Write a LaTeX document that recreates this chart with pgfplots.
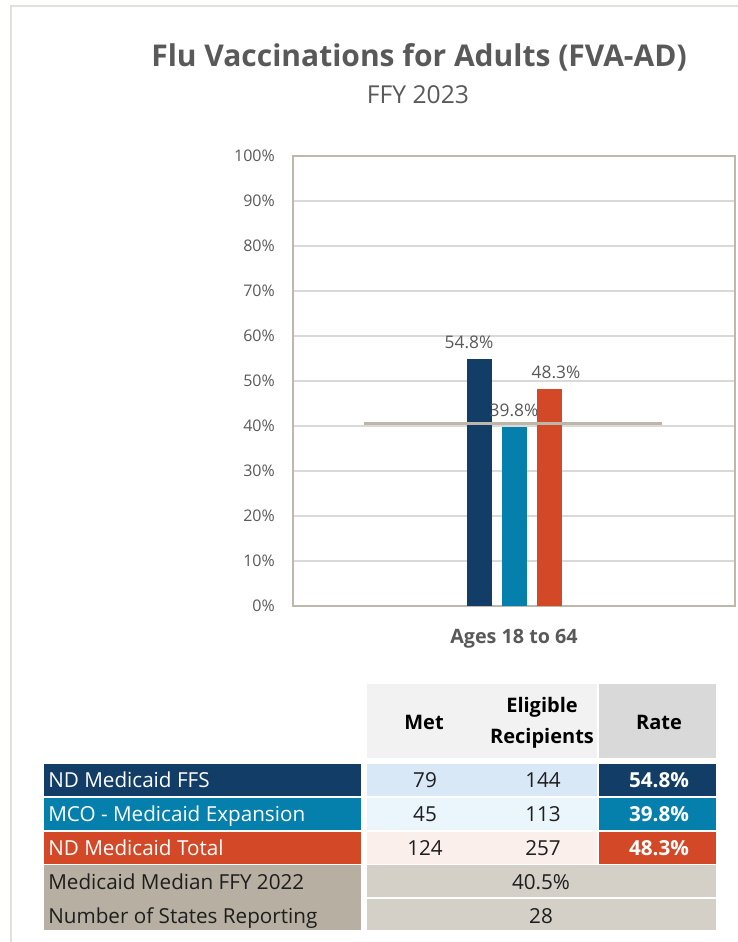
\documentclass[border=0pt]{standalone}
\usepackage{pgfplots}
\pgfplotsset{compat=1.18}
\usepackage{fontspec}
\setmainfont{Open Sans}
\definecolor{cFFS}{RGB}{17,61,102}
\definecolor{cMCO}{RGB}{5,127,172}
\definecolor{cTot}{RGB}{211,72,38}
\definecolor{cMed}{RGB}{190,183,168}
\definecolor{cGrid}{RGB}{217,217,217}
\definecolor{cBord}{RGB}{190,184,172}
\definecolor{cTxt}{RGB}{89,89,89}
\definecolor{cFrame}{RGB}{226,224,219}
\definecolor{cTan}{RGB}{182,175,162}
\definecolor{cMedCell}{RGB}{212,208,200}
\definecolor{cHead}{RGB}{242,242,242}
\definecolor{cRateHead}{RGB}{217,217,217}
\definecolor{cR1}{RGB}{216,232,246}
\definecolor{cR2}{RGB}{234,246,252}
\definecolor{cR3}{RGB}{251,239,236}
\definecolor{cDark}{RGB}{30,30,30}
\newcommand{\tfont}{\fontsize{15.5pt}{18pt}\selectfont}
\newcommand{\hfont}{\fontsize{15pt}{18pt}\selectfont\bfseries}
\newcommand{\lbl}{\fontsize{13pt}{15pt}\selectfont\pgfmathprintnumber[fixed,fixed zerofill,precision=1]{\pgfplotspointmeta}\%}
\begin{document}
\begin{tikzpicture}
\path[use as bounding box] (0,0) rectangle (553.5pt,706.5pt);
\begin{scope}[shift={(0pt,706.5pt)},x=0.75pt,y=-0.75pt]
  % frame
  \draw[cFrame,line width=1.5pt] (11,942) -- (11,6) -- (738,6);
  % titles
  \node[anchor=base,text=cTxt,font=\fontsize{22.5pt}{26pt}\selectfont\bfseries,inner sep=0pt] at (419,67) {Flu Vaccinations for Adults (FVA-AD)};
  \node[anchor=base,text=cTxt,font=\fontsize{18.5pt}{22pt}\selectfont,inner sep=0pt] at (418,104) {FFY 2023};
  % table backgrounds
  \begin{scope}[draw=white,line width=1.2pt]
    \filldraw[fill=cHead] (366,683) rectangle (598,759);
    \filldraw[fill=cRateHead] (598,683) rectangle (717,759);
    % row 1
    \filldraw[fill=cFFS] (43,763) rectangle (362,797);
    \filldraw[fill=cR1] (366,763) rectangle (598,797);
    \filldraw[fill=cFFS] (598,763) rectangle (717,797);
    % row 2
    \filldraw[fill=cMCO] (43,797) rectangle (362,831);
    \filldraw[fill=cR2] (366,797) rectangle (598,831);
    \filldraw[fill=cMCO] (598,797) rectangle (717,831);
    % row 3
    \filldraw[fill=cTot] (43,831) rectangle (362,864.5);
    \filldraw[fill=cR3] (366,831) rectangle (598,864.5);
    \filldraw[fill=cTot] (598,831) rectangle (717,864.5);
    % rows 4-5
    \filldraw[fill=cTan] (43,864.5) rectangle (362,931);
    \filldraw[fill=cMedCell] (366,864.5) rectangle (717,898);
    \filldraw[fill=cMedCell] (366,898) rectangle (717,931);
  \end{scope}
  % header text
  \node[anchor=base,inner sep=0pt,font=\hfont] at (424,730) {Met};
  \node[anchor=base,inner sep=0pt,font=\hfont] at (542,713) {Eligible};
  \node[anchor=base,inner sep=0pt,font=\hfont] at (542,744) {Recipients};
  \node[anchor=base,inner sep=0pt,font=\hfont] at (659,730) {Rate};
  % row labels
  \node[anchor=base west,inner sep=0pt,font=\tfont,text=white] at (48,788) {ND Medicaid FFS};
  \node[anchor=base west,inner sep=0pt,font=\tfont,text=white] at (48,822) {MCO - Medicaid Expansion};
  \node[anchor=base west,inner sep=0pt,font=\tfont,text=white] at (48,855.5) {ND Medicaid Total};
  \node[anchor=base west,inner sep=0pt,font=\tfont,text=cDark] at (48,889.5) {Medicaid Median FFY 2022};
  \node[anchor=base west,inner sep=0pt,font=\tfont,text=cDark] at (48,923.5) {Number of States Reporting};
  % values
  \node[anchor=base,inner sep=0pt,font=\tfont,text=cDark] at (425,788) {79};
  \node[anchor=base,inner sep=0pt,font=\tfont,text=cDark] at (543,788) {144};
  \node[anchor=base,inner sep=0pt,font=\tfont\bfseries,text=white] at (659,788) {54.8\%};
  \node[anchor=base,inner sep=0pt,font=\tfont,text=cDark] at (425,822) {45};
  \node[anchor=base,inner sep=0pt,font=\tfont,text=cDark] at (543,822) {113};
  \node[anchor=base,inner sep=0pt,font=\tfont\bfseries,text=white] at (659,822) {39.8\%};
  \node[anchor=base,inner sep=0pt,font=\tfont,text=cDark] at (425,855.5) {124};
  \node[anchor=base,inner sep=0pt,font=\tfont,text=cDark] at (543,855.5) {257};
  \node[anchor=base,inner sep=0pt,font=\tfont\bfseries,text=white] at (659,855.5) {48.3\%};
  \node[anchor=base,inner sep=0pt,font=\tfont,text=cDark] at (541,889.5) {40.5\%};
  \node[anchor=base,inner sep=0pt,font=\tfont,text=cDark] at (541,923.5) {28};
\end{scope}
\begin{axis}[
  at={(219.75pt,252pt)}, anchor=south west, scale only axis,
  width=331.5pt, height=337.5pt,
  xmin=-0.5, xmax=0.5, ymin=0, ymax=100,
  xtick={0}, xticklabels={Ages 18 to 64},
  ytick={0,10,...,100},
  yticklabel={\pgfmathprintnumber{\tick}\%},
  /pgf/number format/assume math mode=true,
  ymajorgrids, grid style={draw=cGrid, line width=1pt},
  major tick length=0pt,
  axis line style={draw=cBord, line width=1.2pt},
  tick label style={text=cTxt, font=\fontsize{12pt}{14pt}\selectfont},
  yticklabel style={inner sep=0pt, anchor=east, xshift=-13.5pt},
  xticklabel style={inner sep=0pt, anchor=north, yshift=-17pt, font=\fontsize{14.8pt}{17pt}\selectfont\bfseries},
  clip=false,
]
\addplot[ybar, bar width=18.75pt, bar shift=-26.25pt, fill=cFFS, draw=none,
  nodes near coords={\lbl},
  every node near coord/.style={anchor=south, inner sep=0pt, yshift=7.5pt, xshift=-33.75pt, text=cTxt}] coordinates {(0,54.8)};
\addplot[ybar, bar width=18.75pt, bar shift=0pt, fill=cMCO, draw=none,
  nodes near coords={\lbl},
  every node near coord/.style={anchor=south, inner sep=0pt, yshift=7.5pt, xshift=0pt, text=cTxt}] coordinates {(0,39.8)};
\addplot[ybar, bar width=18.75pt, bar shift=26.25pt, fill=cTot, draw=none,
  nodes near coords={\lbl},
  every node near coord/.style={anchor=south, inner sep=0pt, yshift=7.5pt, xshift=31.5pt, text=cTxt}] coordinates {(0,48.3)};
\addplot[sharp plot, cMed, line width=2.25pt, no marks] coordinates {(-0.339,40.5) (0.335,40.5)};
\end{axis}
\end{tikzpicture}
\end{document}
